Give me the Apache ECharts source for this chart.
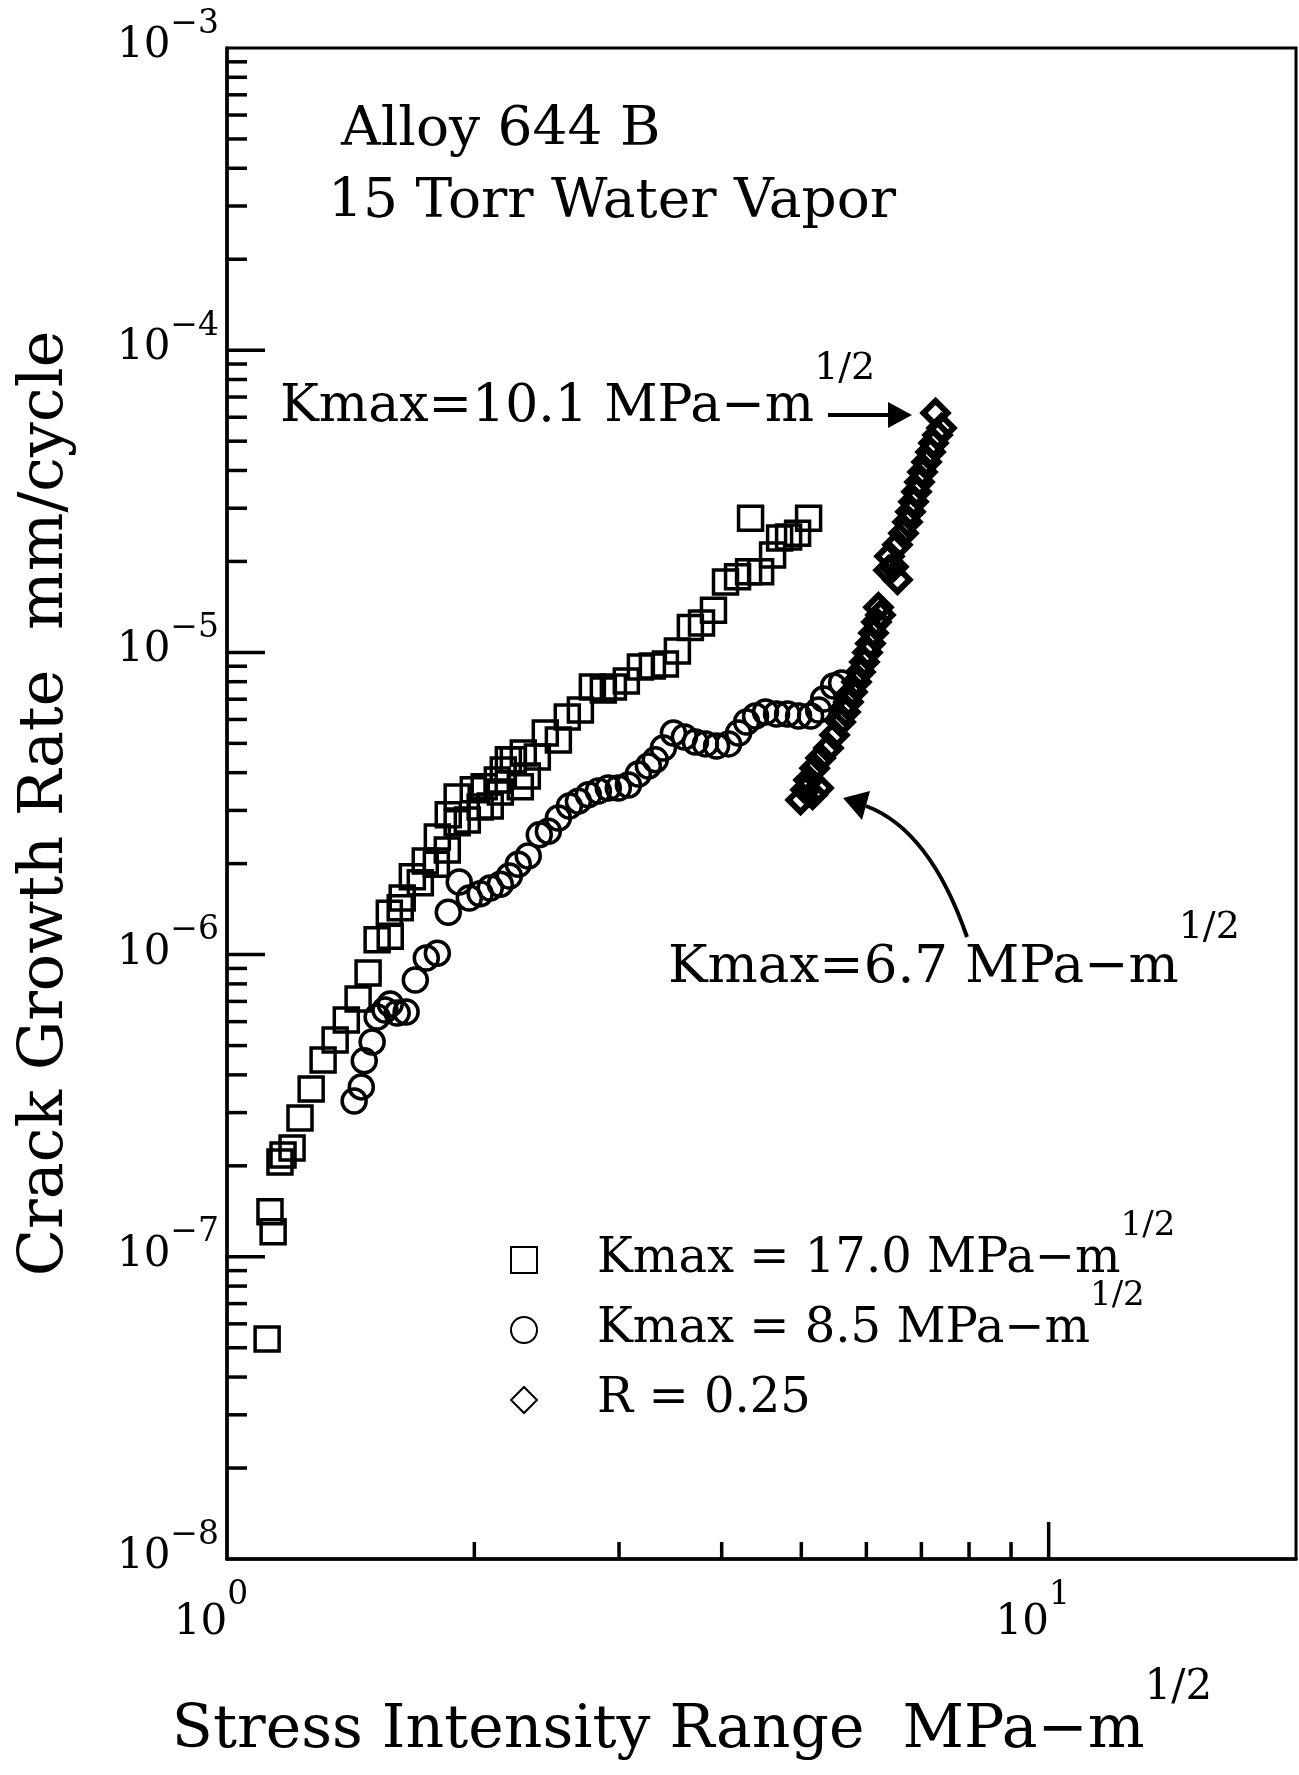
<!DOCTYPE html>
<html>
<head>
<meta charset="utf-8">
<title>Alloy 644 B - crack growth rate</title>
<script src="https://cdn.jsdelivr.net/npm/echarts@6/dist/echarts.min.js"></script>
<style>
  html, body { margin: 0; padding: 0; background: #fff; }
  #app { width: 1299px; height: 1775px; }
</style>
</head>
<body>
<div id="app"></div>
<script>
// [stress intensity range, crack growth rate mm/cycle]
const kmax170 = [
  [1.119, 5.35e-8], [1.128, 1.41e-7], [1.138, 1.21e-7], [1.160, 2.06e-7],
  [1.170, 2.17e-7], [1.200, 2.29e-7], [1.227, 2.88e-7], [1.266, 3.59e-7],
  [1.309, 4.48e-7], [1.354, 5.22e-7], [1.397, 6.08e-7], [1.444, 7.13e-7],
  [1.485, 8.69e-7], [1.523, 1.12e-6], [1.580, 1.15e-6], [1.576, 1.37e-6],
  [1.625, 1.43e-6], [1.634, 1.54e-6], [1.681, 1.81e-6], [1.719, 1.73e-6],
  [1.743, 2.04e-6], [1.798, 1.99e-6], [1.803, 2.45e-6], [1.854, 2.22e-6],
  [1.859, 2.90e-6], [1.906, 2.73e-6], [1.906, 3.32e-6], [1.961, 2.79e-6],
  [1.994, 3.51e-6], [2.033, 3.08e-6], [2.056, 3.59e-6], [2.091, 3.10e-6],
  [2.133, 3.78e-6], [2.151, 3.45e-6], [2.169, 4.08e-6], [2.200, 4.41e-6],
  [2.231, 4.41e-6], [2.275, 3.59e-6], [2.294, 4.65e-6], [2.320, 3.90e-6],
  [2.386, 4.51e-6], [2.440, 5.41e-6], [2.531, 5.13e-6], [2.595, 6.11e-6],
  [2.692, 6.45e-6], [2.784, 7.68e-6], [2.871, 7.51e-6], [2.953, 7.68e-6],
  [3.062, 8.04e-6], [3.185, 8.95e-6], [3.294, 9.02e-6], [3.416, 9.15e-6],
  [3.533, 1.01e-5], [3.664, 1.21e-5], [3.780, 1.25e-5], [3.909, 1.38e-5],
  [4.043, 1.71e-5], [4.182, 1.78e-5], [4.313, 1.85e-5], [4.337, 2.78e-5],
  [4.461, 1.85e-5], [4.613, 2.10e-5], [4.705, 2.39e-5], [4.825, 2.41e-5],
  [4.948, 2.48e-5], [5.103, 2.78e-5]
];

const kmax85 = [
  [1.428, 3.28e-7], [1.457, 3.65e-7], [1.469, 4.45e-7], [1.502, 5.14e-7],
  [1.523, 6.22e-7], [1.557, 6.56e-7], [1.580, 6.86e-7], [1.611, 6.41e-7],
  [1.652, 6.46e-7], [1.695, 8.24e-7], [1.748, 9.75e-7], [1.803, 1.01e-6],
  [1.859, 1.38e-6], [1.917, 1.74e-6], [1.972, 1.54e-6], [2.033, 1.59e-6],
  [2.091, 1.66e-6], [2.151, 1.71e-6], [2.206, 1.82e-6], [2.262, 1.99e-6],
  [2.326, 2.12e-6], [2.399, 2.49e-6], [2.461, 2.56e-6], [2.531, 2.83e-6],
  [2.610, 3.10e-6], [2.677, 3.22e-6], [2.753, 3.38e-6], [2.831, 3.48e-6],
  [2.911, 3.56e-6], [2.994, 3.56e-6], [3.080, 3.64e-6], [3.167, 3.96e-6],
  [3.257, 4.21e-6], [3.321, 4.41e-6], [3.397, 4.83e-6], [3.494, 5.41e-6],
  [3.603, 5.25e-6], [3.716, 5.05e-6], [3.822, 4.98e-6], [3.943, 4.90e-6],
  [4.078, 4.98e-6], [4.194, 5.41e-6], [4.289, 5.88e-6], [4.398, 6.16e-6],
  [4.523, 6.35e-6], [4.665, 6.25e-6], [4.811, 6.25e-6], [4.962, 6.16e-6],
  [5.132, 6.16e-6], [5.248, 6.45e-6], [5.323, 7.01e-6], [5.474, 7.74e-6],
  [5.598, 7.92e-6]
];

const r025 = [
  [4.990, 3.25e-6], [5.060, 3.51e-6], [5.161, 3.38e-6], [5.248, 3.56e-6],
  [5.103, 3.78e-6], [5.190, 4.14e-6], [5.278, 4.47e-6], [5.396, 4.83e-6],
  [5.489, 5.33e-6], [5.583, 5.88e-6], [5.659, 6.35e-6], [5.706, 6.85e-6],
  [5.771, 7.40e-6], [5.836, 7.98e-6], [5.902, 8.61e-6], [5.968, 9.29e-6],
  [6.019, 1.00e-5], [6.069, 1.07e-5], [6.121, 1.16e-5], [6.172, 1.26e-5],
  [6.242, 1.33e-5], [6.207, 1.41e-5], [6.384, 1.87e-5], [6.547, 1.74e-5],
  [6.474, 1.92e-5], [6.402, 2.08e-5], [6.547, 2.27e-5], [6.658, 2.48e-5],
  [6.733, 2.70e-5], [6.790, 2.92e-5], [6.848, 3.15e-5], [6.905, 3.40e-5],
  [6.964, 3.66e-5], [7.023, 3.95e-5], [7.102, 4.27e-5], [7.182, 4.60e-5],
  [7.243, 4.93e-5], [7.324, 5.24e-5], [7.407, 5.53e-5], [7.283, 6.20e-5]
];

const seriesNames = ['Kmax = 17.0 MPa−m', 'Kmax = 8.5 MPa−m', 'R = 0.25'];
const seriesSups = ['1/2', '1/2', ' '];

// log axis ticks
const xMinorTicks = [2, 3, 4, 5, 6, 7, 8, 9];
const xMajorTicks = [10];
const yDecades = [1e-8, 1e-7, 1e-6, 1e-5, 1e-4];
const yMajorTicks = [1e-7, 1e-6, 1e-5, 1e-4];
const yMinorTicks = [];
yDecades.forEach(d => xMinorTicks.forEach(m => yMinorTicks.push(m * d)));

const FONT = 'DejaVu Serif';
const X_MIN = 1, X_MAX = 20, Y_MIN = 1e-8, Y_MAX = 1e-3;

function powerLabel(value) {
  const e = Math.log10(value);
  const r = Math.round(e);
  if (Math.abs(e - r) > 1e-6) return '';
  return '{b|10}{s|' + (r < 0 ? '−' + (-r) : r) + '}';
}

function tickSeries(values, dir, len) {
  return {
    type: 'custom',
    silent: true,
    clip: false,
    z: 5,
    data: values.map(v => (dir === 'y' ? [X_MIN, v] : [v, Y_MIN])),
    renderItem(params, api) {
      const p = api.coord([api.value(0), api.value(1)]);
      const q = dir === 'y' ? [p[0] + len, p[1]] : [p[0], p[1] - len];
      return {
        type: 'line',
        shape: { x1: p[0], y1: p[1], x2: q[0], y2: q[1] },
        style: { stroke: '#000', lineWidth: 3.5 }
      };
    }
  };
}

function scatter(name, data, symbol, size, bw) {
  return {
    type: 'scatter',
    name,
    data,
    symbol,
    symbolSize: size,
    itemStyle: { color: 'rgba(0,0,0,0)', borderColor: '#000', borderWidth: bw, opacity: 1 },
    emphasis: { disabled: true },
    z: 3
  };
}

function tok(size, extra) {
  return Object.assign({ fontFamily: FONT, fontSize: size, color: '#000' }, extra || {});
}

const chart = echarts.init(document.getElementById('app'));

chart.setOption({
  animation: false,
  backgroundColor: '#fff',
  grid: {
    left: 227, right: 3, top: 48, bottom: 216,
    show: true, borderColor: '#000', borderWidth: 3
  },
  xAxis: {
    type: 'log',
    logBase: 10,
    min: X_MIN,
    max: X_MAX,
    axisLine: { lineStyle: { color: '#000', width: 3.5 } },
    axisTick: { show: false },
    splitLine: { show: false },
    axisLabel: {
      margin: 20,
      formatter: powerLabel,
      rich: {
        b: tok(42),
        s: tok(33, { padding: [0, 32, 56, 0] })
      }
    },
    name: '{t|Stress Intensity Range  MPa−m}{s|1/2}',
    nameLocation: 'middle',
    nameGap: 108,
    nameTextStyle: {
      padding: [0, 139, 0, 0],
      rich: {
        t: tok(60),
        s: tok(42, { padding: [0, 0, 86, 0] })
      }
    }
  },
  yAxis: {
    type: 'log',
    logBase: 10,
    min: Y_MIN,
    max: Y_MAX,
    axisLine: { lineStyle: { color: '#000', width: 3.5 } },
    axisTick: { show: false },
    splitLine: { show: false },
    axisLabel: {
      margin: 8,
      formatter: powerLabel,
      rich: {
        b: tok(42, { padding: [0, 0, 4, 0] }),
        s: tok(33, { padding: [0, 0, 48, 0] })
      }
    },
    name: '{t|Crack Growth Rate  mm/cycle}',
    nameLocation: 'middle',
    nameRotate: 90,
    nameGap: 150,
    nameTextStyle: { rich: { t: tok(62) } }
  },
  legend: {
    orient: 'vertical',
    left: 510,
    top: 1209,
    padding: 0,
    itemGap: -5,
    itemWidth: 26,
    itemHeight: 26,
    selectedMode: false,
    data: seriesNames,
    formatter: name => '{t|' + name + '}{s|' + seriesSups[seriesNames.indexOf(name)] + '}',
    textStyle: {
      rich: {
        t: tok(48, { padding: [0, 0, 0, 55] }),
        s: tok(34, { padding: [0, 0, 68, 0] })
      }
    }
  },
  graphic: [
    { type: 'text', x: 341, y: 131, style: { text: 'Alloy 644 B', fontFamily: FONT, fontSize: 55, fill: '#000', verticalAlign: 'middle' } },
    { type: 'text', x: 328, y: 203, style: { text: '15 Torr Water Vapor', fontFamily: FONT, fontSize: 55, fill: '#000', verticalAlign: 'middle' } },
    {
      type: 'text', x: 280, y: 407,
      style: {
        text: '{t|Kmax=10.1 MPa−m}{s|1/2}', verticalAlign: 'middle',
        rich: { t: tok(52), s: tok(38, { padding: [0, 0, 76, 0] }) }
      }
    },
    {
      type: 'text', x: 668, y: 968,
      style: {
        text: '{t|Kmax=6.7 MPa−m}{s|1/2}', verticalAlign: 'middle',
        rich: { t: tok(53), s: tok(38, { padding: [0, 0, 80, 0] }) }
      }
    },
    { type: 'line', shape: { x1: 828, y1: 415, x2: 892, y2: 415 }, style: { stroke: '#000', lineWidth: 4 } },
    { type: 'polygon', shape: { points: [[912, 415], [888, 402], [888, 428]] }, style: { fill: '#000' } },
    {
      type: 'bezierCurve',
      shape: { x1: 967, y1: 937, cpx1: 930, cpy1: 830, x2: 866, y2: 806 },
      style: { stroke: '#000', lineWidth: 4, fill: null }
    },
    { type: 'polygon', shape: { points: [[843, 798], [870, 791], [862, 820]] }, style: { fill: '#000' } }
  ],
  series: [
    scatter(seriesNames[0], kmax170, 'rect', 24, 3.5),
    scatter(seriesNames[1], kmax85, 'circle', 24, 3.5),
    scatter(seriesNames[2], r025, 'diamond', 24, 6),
    tickSeries(yMinorTicks, 'y', 20),
    tickSeries(yMajorTicks, 'y', 38),
    tickSeries(xMinorTicks, 'x', 17),
    tickSeries(xMajorTicks, 'x', 37)
  ]
});
</script>
</body>
</html>
